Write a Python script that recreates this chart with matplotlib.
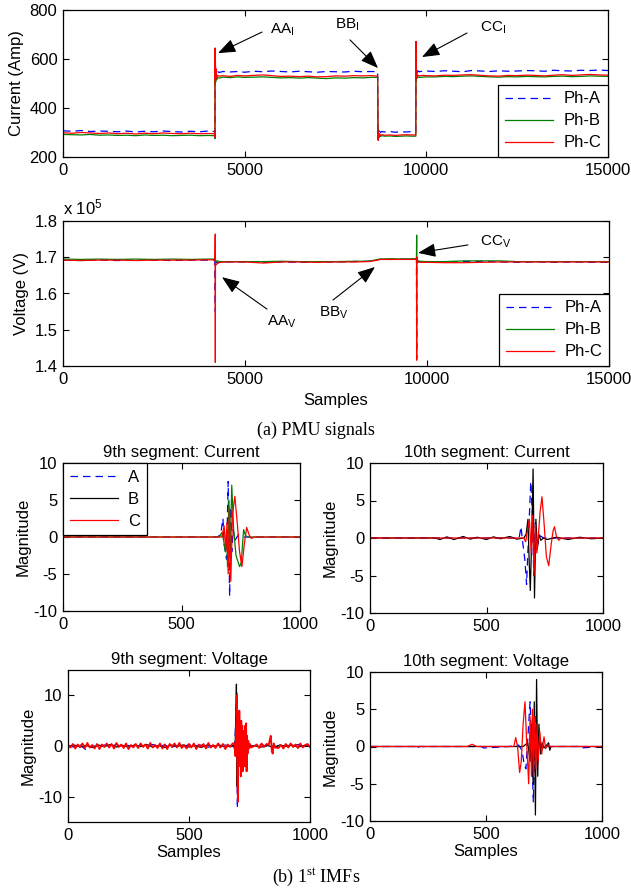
import numpy as np
import matplotlib
matplotlib.use("Agg")
import matplotlib.pyplot as plt
from matplotlib.lines import Line2D

plt.rcParams["font.family"] = ["Liberation Sans", "DejaVu Sans"]
plt.rcParams["axes.unicode_minus"] = False

W, H = 631, 892

# ---------------- (a) PMU signals: current (Amp) ----------------
cur_samples = [0, 250, 500, 750, 1000, 1250, 1500, 1750, 2000, 2250, 2500, 2750, 3000, 3250, 3500, 3750, 4000,
               4175, 4183, 4186, 4190, 4195, 4200, 4210, 4230, 4260, 4300,
               4400, 4600, 4800, 5000,
               5250, 5500, 5750, 6000, 6250, 6500, 6750, 7000, 7250, 7500, 7750, 8000, 8250, 8500,
               8660, 8670, 8675, 8680, 8690, 8710, 8740, 8780, 8850,
               9000, 9150, 9300, 9450, 9600,
               9710, 9716, 9719, 9722, 9726, 9732, 9745, 9770, 9800, 9900, 10000,
               10250, 10500, 10750, 11000, 11250, 11500, 11750, 12000, 12250, 12500,
               12750, 13000, 13250, 13500, 13750, 14000, 14250, 14500, 14750, 15000]
cur_A = [307, 305, 308, 304, 306, 305, 303, 306, 302, 305, 303, 306, 304, 302, 305, 303, 306,
         304, 300, 605, 520, 575, 530, 555, 535, 548, 545,
         549, 547, 549, 546,
         550, 548, 551, 549, 547, 550, 548, 546, 549, 548, 547, 550, 548, 549,
         548, 300, 285, 310, 295, 306, 300, 304, 302,
         304, 301, 303, 302, 304,
         303, 600, 540, 580, 545, 560, 545, 552, 548, 550, 551,
         549, 552, 550, 548, 553, 551, 549, 552, 550, 551,
         553, 552, 550, 554, 552, 551, 554, 553, 555, 553]
cur_B = [292, 291, 290, 292, 289, 290, 288, 289, 287, 290, 288, 289, 287, 288, 289, 287, 288,
         287, 275, 560, 500, 540, 505, 530, 515, 524, 522,
         526, 524, 527, 525,
         526, 527, 525, 523, 524, 522, 524, 522, 520, 523, 522, 524, 523, 525,
         525, 290, 270, 295, 278, 290, 284, 287, 285,
         286, 284, 285, 286, 285,
         285, 580, 510, 550, 515, 535, 522, 527, 525, 526, 527,
         527, 529, 528, 530, 531, 529, 527, 526, 528, 527,
         529, 528, 527, 529, 530, 528, 529, 531, 530, 529]
cur_C = [299, 297, 300, 298, 296, 298, 295, 297, 294, 297, 295, 298, 296, 295, 297, 295, 296,
         295, 280, 645, 510, 590, 515, 560, 525, 533, 530,
         532, 529, 533, 531,
         533, 535, 532, 529, 530, 528, 530, 527, 528, 531, 530, 532, 531, 532,
         530, 295, 268, 300, 280, 295, 288, 291, 289,
         290, 288, 290, 291, 290,
         290, 672, 520, 600, 525, 555, 530, 534, 531, 533, 532,
         531, 534, 533, 535, 536, 533, 531, 530, 533, 532,
         534, 533, 531, 534, 536, 533, 535, 537, 535, 534]

# ---------------- (a) PMU signals: voltage (x 1e5 V) ----------------
volt_samples = [0, 500, 1000, 1500, 2000, 2500, 3000, 3500, 4000,
                4175, 4183, 4185, 4188, 4192, 4200, 4250, 4300, 4500,
                5000, 5500, 6000, 6500, 7000, 7500, 8000,
                8400, 8600, 8700, 9000, 9300, 9600,
                9710, 9714, 9716, 9719, 9723, 9730, 9760, 9800,
                10000, 10500, 11000, 11500, 12000, 12500, 13000, 13500, 14000, 14500, 15000]
volt_A = [1.692, 1.691, 1.692, 1.691, 1.692, 1.692, 1.691, 1.692, 1.692,
          1.692, 1.575, 1.550, 1.700, 1.684, 1.688, 1.686, 1.687, 1.687,
          1.687, 1.686, 1.687, 1.686, 1.687, 1.687, 1.688,
          1.689, 1.692, 1.694, 1.694, 1.695, 1.694,
          1.694, 1.520, 1.420, 1.700, 1.680, 1.692, 1.688, 1.687,
          1.687, 1.686, 1.688, 1.689, 1.687, 1.686, 1.687, 1.686, 1.687, 1.686, 1.686]
volt_B = [1.695, 1.694, 1.695, 1.694, 1.695, 1.694, 1.695, 1.694, 1.695,
          1.695, 1.700, 1.690, 1.692, 1.686, 1.689, 1.690, 1.688, 1.688,
          1.688, 1.688, 1.689, 1.688, 1.688, 1.688, 1.689,
          1.689, 1.693, 1.695, 1.696, 1.695, 1.696,
          1.696, 1.740, 1.761, 1.690, 1.700, 1.692, 1.690, 1.689,
          1.688, 1.688, 1.690, 1.690, 1.690, 1.688, 1.688, 1.688, 1.688, 1.688, 1.688]
volt_C = [1.692, 1.691, 1.692, 1.692, 1.691, 1.692, 1.692, 1.692, 1.693,
          1.693, 1.764, 1.410, 1.680, 1.682, 1.679, 1.683, 1.686, 1.687,
          1.687, 1.684, 1.687, 1.687, 1.686, 1.687, 1.687,
          1.688, 1.691, 1.694, 1.694, 1.694, 1.694,
          1.695, 1.700, 1.416, 1.700, 1.685, 1.690, 1.687, 1.686,
          1.686, 1.685, 1.685, 1.686, 1.687, 1.687, 1.687, 1.687, 1.687, 1.687, 1.687]

# ---------------- (b) 1st IMFs, 9th segment current ----------------
c9_A_x = [0, 100, 200, 300, 400, 500, 600, 650, 665, 675, 680, 690, 697, 703, 708, 712, 718, 725, 740, 760, 850, 1000]
c9_A = [0, 0, 0, 0, 0, 0, 0, 0, 0.3, 2.5, -1, -3, 7.5, -8, 4, -2, 1, -0.5, 0.3, 0, 0, 0]
c9_B_x = [0, 660, 670, 678, 685, 690, 694, 700, 705, 712, 720, 730, 745, 752, 762, 770, 780, 1000]
c9_B = [0, 0, 0.6, -0.5, -2, 1, -4, 5, -3, 7, 1, -2.5, -4, -3.5, 1, 0.2, 0, 0]
c9_C_x = [0, 670, 680, 687, 692, 697, 702, 708, 715, 725, 735, 745, 755, 765, 775, 785, 795, 805, 1000]
c9_C = [0, 0, 1.5, -2, 2, -5, 4, -6, 3, 5.5, 2, -2, -4, -1, 1.3, 0.3, -0.2, 0, 0]

# ---------------- 10th segment current ----------------
c10_A_x = [0, 640, 648, 655, 665, 672, 680, 690, 697, 703, 710, 718, 730, 745, 1000]
c10_A = [0, 0, 1.5, -0.5, -3, -6.2, 0, 7.5, 3, -5, 2, -1, 0.3, 0, 0]
c10_B_x = [0, 100, 200, 280, 300, 330, 360, 400, 430, 460, 500, 530, 560, 600, 630,
           660, 670, 678, 683, 688, 694, 700, 706, 712, 718, 725, 733, 745, 760, 800, 850, 900, 950, 1000]
c10_B = [0, 0, 0, 0, -0.2, 0.15, -0.2, 0.2, -0.15, 0.1, -0.2, 0.15, -0.1, 0.2, -0.15,
         0, 0.5, 2.5, -3, -7, 0, 9.2, -8, 2.5, -1.5, 0.5, -0.3, 0, -0.2, 0.1, -0.2, 0.1, -0.1, 0]
c10_C_x = [0, 660, 668, 675, 684, 692, 698, 704, 710, 716, 722, 730, 738, 747, 757, 767, 777, 786, 792, 800, 810, 820, 1000]
c10_C = [0, 0, -0.5, 0.8, 2.5, -2, 3, -5, 1.8, -2, 0, 3.5, 5.5, 2, -2.5, -3.7, -1, 1, 1.5, 0.2, -0.3, 0, 0]

# ---------------- 9th segment voltage ----------------
v9_C_base_step = 10
v9_C_base = [0.2, -0.3, 0.4, -0.5, 0.3, -0.2, 0.5, -0.4, 0.6, -0.3,
             0.2, -0.5, 0.4, -0.6, 0.3, -0.2, 0.5, -0.3, 0.4, -0.5,
             0.6, -0.2, 0.3, -0.4, 0.5, -0.6, 0.2, -0.3, 0.4, -0.4,
             0.5, -0.2, 0.3, -0.5, 0.6, -0.3, 0.2, -0.4, 0.5, -0.5,
             0.3, -0.6, 0.4, -0.2, 0.5, -0.3, 0.6, -0.4, 0.2, -0.5,
             0.4, -0.3, 0.5, -0.6, 0.3, -0.2, 0.4, -0.5, 0.6, -0.3,
             0.2, -0.4, 0.5, -0.3, 0.4, -0.6, 0.3, -0.2, 0.5, -0.4,
             0.0, 0.0, 0.0, 0.0, 0.0, 0.0, 0.0, 0.0,
             0.3, -0.4, 0.5, -0.2, 0.4, -0.5, 0.3, -0.3, 0.6, -0.4,
             0.2, -0.5, 0.4, -0.3, 0.5, -0.2, 0.3, -0.4, 0.5, -0.3, 0.2, 0.4, -0.2]
v9_C_evt_x = [688, 692, 695, 698, 700, 702, 704, 706, 708, 710, 712, 714, 716, 718, 720, 722, 724, 726,
              728, 730, 732, 734, 736, 738, 740, 742, 745, 748, 752, 756,
              830, 835, 838, 842, 846, 850, 855]
v9_C_evt = [0.5, -2, 4, 10, -6, -11, 6, -3, 7, -4, 3, -6, 5, -3, 4, -5, 3, -3,
            2, -4, 4, -2, 4.5, -5, 2, -1.5, 1, -0.5, 0.4, -0.3,
            0.3, 1.5, 2.0, -1, -1.5, 0.5, -0.3]
v9_AB_base_step = 25
v9_A_base = [0.1, -0.2, 0.2, -0.8, 0.1, -0.3, 0.2, -0.1, 0.3, -0.2,
             0.1, -0.3, 0.2, -0.2, 0.3, -0.1, 0.2, -0.3, 0.1, -0.2,
             0.3, -0.1, 0.2, -0.3, 0.1, -0.2, 0.2, -0.1, 0.0, 0.0,
             0.0, 0.0, 0.3, -0.2, 0.1, -0.3, 0.2, -0.1, 0.3, -0.2, 0.1]
v9_A_evt_x = [685, 690, 694, 697, 700, 703, 706, 710, 715, 720, 730, 740, 750]
v9_A_evt = [0, 1, 6, 10.5, -12.3, 3, -4, 2, -2, 1.5, -1, 0.5, 0]
v9_B_base = [-0.1, 0.2, -0.2, 0.1, -0.3, 0.2, -0.1, 0.3, -0.2, 0.1,
             -0.2, 0.2, -0.1, 0.3, -0.2, 0.1, -0.3, 0.2, -0.1, 0.2,
             -0.2, 0.1, -0.3, 0.2, -0.1, 0.2, -0.2, 0.1, 0.0, 0.0,
             0.0, 0.0, -0.2, 0.1, -0.3, 0.2, -0.1, 0.2, -0.2, 0.1, -0.1]
v9_B_evt_x = [685, 690, 693, 696, 699, 702, 705, 710, 715, 720, 730, 740, 750]
v9_B_evt = [0, -1, 5, 12.2, -8, 4, -3, 2, -1.5, 1, -0.5, 0.3, 0]

# ---------------- 10th segment voltage ----------------
v10_A_x = [0, 200, 205, 210, 480, 490, 600, 640, 655, 665, 672, 680, 690, 697, 704, 710, 716, 722, 730, 740, 760, 900, 905, 1000]
v10_A = [0, 0, -0.3, 0, 0, -0.2, 0, 0.2, -0.5, -2.5, -3, 1, 6, 0, -7.5, 0, 4, -2, 1, -0.3, 0, 0, -0.2, 0]
v10_B_x = [0, 660, 680, 690, 697, 703, 708, 713, 718, 723, 728, 735, 742, 750, 770, 775, 780, 1000]
v10_B = [0, 0, 0.5, -2, 3, -5, 6, -9.2, 9, -4, 3, -1, 0.5, -0.2, 0.5, -0.5, 0, 0]
v10_C_x = [0, 420, 440, 460, 600, 620, 628, 636, 645, 652, 660, 668, 676, 684, 690, 696, 700, 705,
           710, 715, 720, 725, 732, 740, 750, 757, 765, 775, 1000]
v10_C = [0, 0, 0.3, 0, 0, 0, 1.2, 0, -3.5, -2, 3, 6, 0, -5, 4, -4, 5, -4,
         4, -3, 3, -2, 2, -1, 1.3, -0.3, 0.2, 0, 0]

BLUE, GREEN, RED, BLACK = (0, 0, 1), (0, 0.5, 0), (1, 0, 0), (0, 0, 0)
DASH = (0, (6, 4))


def merge(step, base, evt_x, evt_y, gaps):
    """Baseline wiggle with the event stretches (gaps) replaced by read-off points."""
    bx = np.arange(len(base)) * step
    by = np.asarray(base, dtype=float)
    keep = np.ones(len(bx), bool)
    for lo, hi in gaps:
        keep &= ~((bx >= lo) & (bx <= hi))
    x = np.concatenate([bx[keep], evt_x])
    y = np.concatenate([by[keep], evt_y])
    order = np.argsort(x, kind="stable")
    return x[order], y[order]


def add_axes_px(fig, left, top, right, bottom):
    return fig.add_axes([left / W, 1 - bottom / H, (right - left) / W, (bottom - top) / H])


def style(ax):
    ax.tick_params(direction="in", top=True, right=True, length=4, width=0.8, labelsize=12, pad=4)
    for s in ax.spines.values():
        s.set_linewidth(0.9)


def legend(ax, labels, colors, styles, loc):
    handles = [Line2D([], [], color=c, ls=s, lw=0.9) for c, s in zip(colors, styles)]
    lg = ax.legend(handles, labels, loc=loc, borderaxespad=0, fontsize=12, handlelength=2.9,
                   handletextpad=0.6, borderpad=0.4, labelspacing=0.42, fancybox=False,
                   framealpha=1, edgecolor="k")
    lg.get_frame().set_linewidth(0.9)


def arrow(ax, head, tail):
    ax.annotate("", xy=head, xytext=tail,
                arrowprops=dict(arrowstyle="-|>,head_length=0.9,head_width=0.35", color="k",
                                lw=0.8, mutation_scale=12, shrinkA=0, shrinkB=0))


fig = plt.figure(figsize=(W / 100, H / 100), dpi=100)

# ---- current ----
ax1 = add_axes_px(fig, 63, 10, 608, 157)
ax1.plot(cur_samples, cur_A, color=BLUE, ls=DASH, lw=0.9)
ax1.plot(cur_samples, cur_B, color=GREEN, lw=0.9)
ax1.plot(cur_samples, cur_C, color=RED, lw=0.9)
ax1.set_xlim(0, 15000)
ax1.set_ylim(200, 800)
ax1.set_xticks([0, 5000, 10000, 15000])
ax1.set_yticks([200, 400, 600, 800])
ax1.set_ylabel("Current (Amp)", fontsize=12, labelpad=4)
style(ax1)
legend(ax1, ["Ph-A", "Ph-B", "Ph-C"], [BLUE, GREEN, RED], [DASH, "-", "-"], "lower right")
ax1.text(5700, 720, r"AA$\mathregular{_I}$", fontsize=11, va="center")
arrow(ax1, (4266, 624), (5477, 710))
ax1.text(7817, 739, r"BB$\mathregular{_I}$", fontsize=11, va="center", ha="center")
arrow(ax1, (8670, 563), (7899, 678))
ax1.text(11477, 727, r"CC$\mathregular{_I}$", fontsize=11, va="center")
arrow(ax1, (9881, 608), (11119, 706))

# ---- voltage ----
ax2 = add_axes_px(fig, 63, 221, 609, 366)
ax2.plot(volt_samples, volt_A, color=BLUE, ls=DASH, lw=0.9)
ax2.plot(volt_samples, volt_B, color=GREEN, lw=0.9)
ax2.plot(volt_samples, volt_C, color=RED, lw=0.9)
ax2.set_xlim(0, 15000)
ax2.set_ylim(1.4, 1.8)
ax2.set_xticks([0, 5000, 10000, 15000])
ax2.set_yticks([1.4, 1.5, 1.6, 1.7, 1.8])
ax2.set_ylabel("Voltage (V)", fontsize=12, labelpad=4)
ax2.set_xlabel("Samples", fontsize=12, labelpad=5)
ax2.text(0, 1.025, r"x 10$\mathregular{^5}$", transform=ax2.transAxes, fontsize=12, va="bottom")
style(ax2)
legend(ax2, ["Ph-A", "Ph-B", "Ph-C"], [BLUE, GREEN, RED], [DASH, "-", "-"], "lower right")
ax2.text(6016, 1.521, r"AA$\mathregular{_V}$", fontsize=11, va="center", ha="center")
arrow(ax2, (4368, 1.645), (5604, 1.557))
ax2.text(7445, 1.546, r"BB$\mathregular{_V}$", fontsize=11, va="center", ha="center")
arrow(ax2, (8571, 1.673), (7418, 1.582))
ax2.text(11450, 1.742, r"CC$\mathregular{_V}$", fontsize=11, va="center")
arrow(ax2, (9753, 1.712), (11126, 1.734))

fig.text(316 / W, 1 - 430 / H, "(a) PMU signals", family="Liberation Serif", fontsize=13,
         ha="center", va="center")

# ---- 9th segment current ----
ax3 = add_axes_px(fig, 63, 463, 300, 611)
ax3.plot(c9_A_x, c9_A, color=BLUE, ls=DASH, lw=0.9)
ax3.plot(c9_B_x, c9_B, color=GREEN, lw=0.9)
ax3.plot(c9_C_x, c9_C, color=RED, lw=0.9)
ax3.set_ylim(-10, 10)
ax3.set_yticks([-10, -5, 0, 5, 10])
ax3.set_title("9th segment: Current", fontsize=12, pad=4)
legend(ax3, ["A", "B", "C"], [BLUE, BLACK, RED], [DASH, "-", "-"], "upper left")

# ---- 10th segment current ----
ax4 = add_axes_px(fig, 370, 463, 603, 613)
ax4.plot(c10_A_x, c10_A, color=BLUE, ls=DASH, lw=0.9)
ax4.plot(c10_B_x, c10_B, color=BLACK, lw=0.9)
ax4.plot(c10_C_x, c10_C, color=RED, lw=0.9)
ax4.set_ylim(-10, 10)
ax4.set_yticks([-10, -5, 0, 5, 10])
ax4.set_title("10th segment: Current", fontsize=12, pad=4)

# ---- 9th segment voltage ----
ax5 = add_axes_px(fig, 68, 670, 310, 822)
xa, ya = merge(v9_AB_base_step, v9_A_base, v9_A_evt_x, v9_A_evt, [(685, 750)])
xb, yb = merge(v9_AB_base_step, v9_B_base, v9_B_evt_x, v9_B_evt, [(685, 750)])
xc, yc = merge(v9_C_base_step, v9_C_base, v9_C_evt_x, v9_C_evt, [(685, 760), (825, 860)])
ax5.plot(xa, ya, color=BLUE, ls=DASH, lw=0.9)
ax5.plot(xb, yb, color=BLACK, lw=0.9)
ax5.plot(xc, yc, color=RED, lw=1.3)
ax5.set_ylim(-15, 15)
ax5.set_yticks([-10, 0, 10])
ax5.set_title("9th segment: Voltage", fontsize=12, pad=4)
ax5.set_xlabel("Samples", fontsize=12, labelpad=2)

# ---- 10th segment voltage ----
ax6 = add_axes_px(fig, 370, 672, 602, 821)
ax6.plot(v10_A_x, v10_A, color=BLUE, ls=DASH, lw=0.9)
ax6.plot(v10_B_x, v10_B, color=BLACK, lw=0.9)
ax6.plot(v10_C_x, v10_C, color=RED, lw=0.9)
ax6.set_ylim(-10, 10)
ax6.set_yticks([-10, -5, 0, 5, 10])
ax6.set_title("10th segment: Voltage", fontsize=12, pad=4)
ax6.set_xlabel("Samples", fontsize=12, labelpad=2)

for ax in (ax3, ax4, ax5, ax6):
    ax.set_xlim(0, 1000)
    ax.set_xticks([0, 500, 1000])
    ax.set_ylabel("Magnitude", fontsize=12, labelpad=2)
    style(ax)

fig.text(316 / W, 1 - 877 / H, r"(b) 1$\mathregular{^{st}}$ IMFs", family="Liberation Serif",
         fontsize=13, ha="center", va="center")

fig.savefig("out.png", dpi=100)
